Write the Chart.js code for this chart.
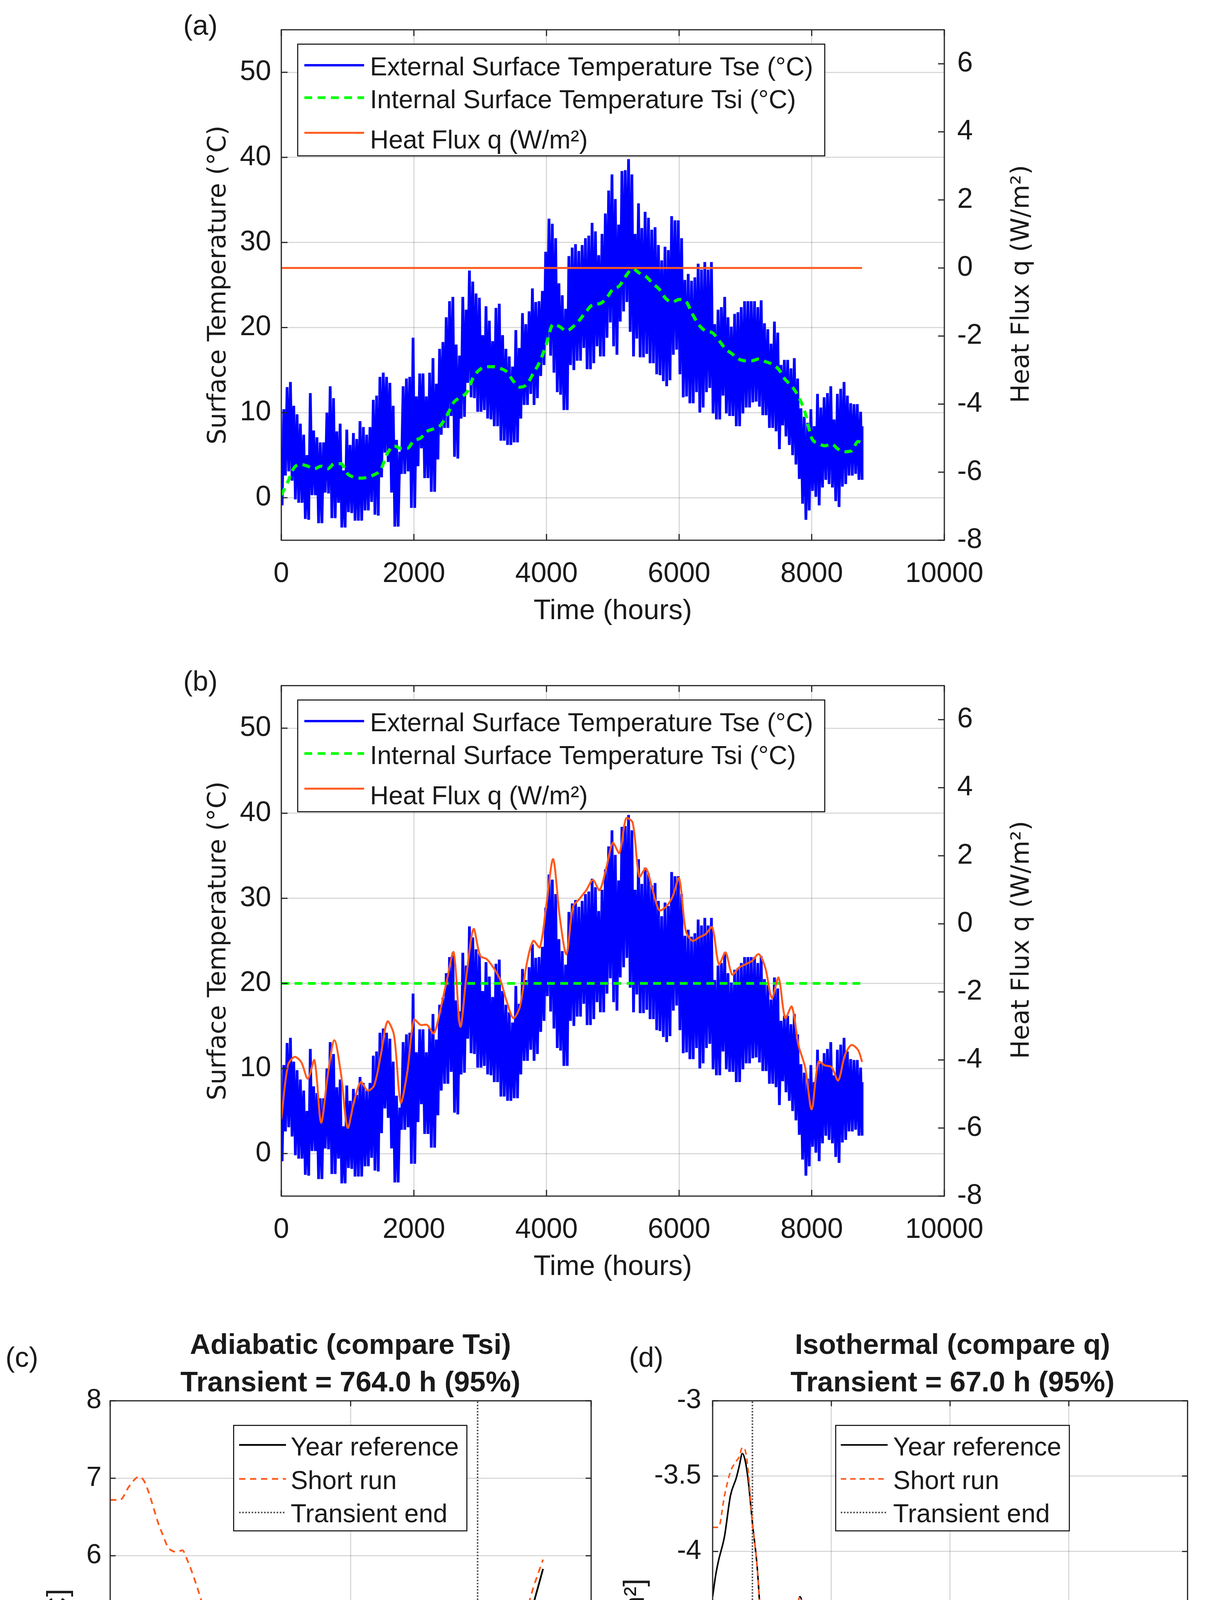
<!DOCTYPE html>
<html>
<head>
<meta charset="utf-8">
<script src="https://cdn.jsdelivr.net/npm/chart.js@4.4.1/dist/chart.umd.min.js"></script>
<style>
  html, body { margin: 0; padding: 0; background: #fff; }
  body { width: 3138px; height: 5023px; position: relative; overflow: hidden; }
  canvas { position: absolute; }
</style>
</head>
<body>
<canvas id="chartA" width="3138" height="1650" style="left:0;top:0;width:3138px;height:1650px"></canvas>
<canvas id="chartB" width="3138" height="1650" style="left:0;top:1679px;width:3138px;height:1650px"></canvas>
<canvas id="chartC" width="1700" height="1723" style="left:0;top:3300px;width:1700px;height:1723px"></canvas>
<canvas id="chartD" width="1569" height="1723" style="left:1569px;top:3300px;width:1569px;height:1723px"></canvas>
<script>
// ---- data ----
// External surface temperature, per 50 h bin: highest and lowest value in the bin (degC)
const tseBinHours = 50;
const tseHigh = [
  10.4, 13.0, 13.6, 10.8, 9.8, 8.7, 7.4, 5.0, 12.3, 7.9,
  7.1, 6.5, 6.5, 10.0, 13.1, 11.7, 7.8, 8.7, 3.2, 8.0,
  6.2, 7.6, 6.9, 9.0, 8.3, 7.4, 8.3, 11.5, 12.0, 14.2,
  14.7, 14.2, 13.5, 10.8, 6.8, 5.4, 13.1, 14.0, 14.2, 18.8,
  11.9, 14.6, 14.6, 11.9, 14.7, 16.4, 13.4, 17.5, 18.3, 21.2,
  23.1, 23.6, 18.0, 16.7, 23.6, 22.1, 26.7, 25.4, 24.0, 23.5,
  19.1, 22.5, 20.8, 18.4, 22.3, 22.8, 19.1, 17.5, 16.6, 15.4,
  19.7, 17.6, 21.7, 20.4, 21.9, 24.6, 23.0, 23.1, 24.3, 28.9,
  32.8, 32.2, 30.5, 25.2, 23.8, 22.2, 28.4, 29.4, 29.8, 29.0,
  29.7, 30.5, 30.8, 32.3, 31.3, 28.5, 31.0, 33.4, 36.1, 38.0,
  35.1, 32.1, 38.4, 38.5, 39.8, 38.0, 31.0, 34.6, 31.7, 33.6,
  32.9, 31.5, 31.8, 29.7, 27.9, 29.5, 29.1, 33.1, 32.6, 32.6,
  30.5, 25.6, 26.3, 25.5, 25.9, 27.5, 26.8, 27.7, 26.8, 27.7,
  20.4, 22.1, 22.4, 23.6, 21.2, 20.1, 21.6, 21.8, 22.4, 23.1,
  23.1, 23.1, 23.1, 22.4, 23.2, 20.5, 19.8, 18.1, 20.7, 19.4,
  15.6, 16.2, 16.2, 15.2, 16.4, 14.0, 10.5, 9.5, 8.8, 10.4,
  8.4, 12.2, 10.6, 11.8, 12.3, 13.1, 9.2, 12.2, 12.8, 13.6,
  12.0, 11.1, 11.0, 11.0, 10.1, 8.4];
const tseLow = [
  -0.9, 2.6, 3.1, 2.0, -0.2, -0.6, -0.6, -2.5, -2.6, 0.3,
  0.3, -3.0, -3.0, 0.6, 0.5, -2.4, -2.4, -0.6, -3.5, -3.5,
  -1.7, -1.8, -2.7, -2.7, -2.7, -1.5, -1.5, -0.5, -2.0, -2.1,
  2.4, 5.3, 4.2, 0.6, -3.4, -3.4, 2.8, 2.8, 3.1, -1.2,
  -1.2, 3.7, 5.8, 2.3, 2.3, 0.7, 0.7, 4.5, 7.4, 8.2,
  8.2, 9.6, 4.8, 4.6, 9.3, 9.5, 13.5, 11.8, 11.7, 10.1,
  10.1, 10.3, 9.3, 9.2, 8.4, 8.4, 6.7, 6.7, 6.2, 6.2,
  6.5, 6.5, 9.3, 10.9, 10.9, 12.2, 10.9, 11.7, 14.3, 15.6,
  18.5, 16.7, 14.7, 12.4, 12.1, 10.3, 10.3, 15.6, 15.0, 16.1,
  16.1, 17.6, 15.1, 15.1, 15.8, 17.8, 16.6, 16.6, 18.8, 20.6,
  17.8, 16.8, 20.7, 21.9, 23.0, 19.5, 16.6, 18.7, 16.5, 16.5,
  16.9, 15.8, 15.8, 14.5, 14.4, 13.7, 13.1, 13.8, 16.8, 17.4,
  14.5, 11.8, 11.9, 11.1, 11.1, 12.4, 10.0, 10.6, 12.4, 12.9,
  9.9, 9.2, 9.2, 12.0, 9.9, 9.6, 9.6, 8.4, 8.4, 9.9,
  10.6, 10.6, 11.2, 11.3, 10.7, 9.7, 9.7, 8.2, 8.2, 7.8,
  5.7, 8.5, 7.2, 6.2, 5.0, 3.9, 2.2, -0.7, -2.6, -1.5,
  0.8, 0.1, -0.9, 1.2, 2.1, 1.6, 1.2, -0.4, -1.1, 1.3,
  1.6, 2.6, 2.6, 2.8, 2.1, 2.1];

// (a) internal surface temperature every 100 h (last point at 8760 h)
const tsiA = [0.3, 1.9, 3.6, 3.9, 3.7, 3.4, 3.7, 3.4, 4.0, 4.0,
  2.8, 2.4, 2.3, 2.4, 2.7, 3.3, 5.2, 6.1, 5.8, 5.8,
  6.7, 7.0, 7.8, 8.1, 8.5, 9.7, 11.2, 11.8, 12.4, 14.2,
  15.1, 15.4, 15.4, 15.2, 14.8, 13.7, 13.0, 13.3, 14.6, 16.0,
  18.1, 20.4, 20.1, 19.6, 20.1, 20.9, 21.9, 22.7, 22.8, 23.4,
  24.5, 24.9, 26.1, 26.9, 26.4, 26.0, 25.2, 24.5, 23.4, 23.0,
  23.3, 23.1, 21.6, 20.3, 19.6, 19.4, 18.5, 17.5, 16.9, 16.3,
  16.1, 16.1, 16.3, 16.0, 15.7, 15.1, 13.9, 13.1, 11.9, 10.0,
  7.0, 6.4, 6.1, 6.3, 5.7, 5.4, 5.5, 6.6, 6.4];
// (a) heat flux (adiabatic: zero)
const fluxAHours = [0, 8760];
const fluxA = [0, 0];

// (b) internal surface temperature held fixed
const tsiBHours = [0, 8760];
const tsiB = [20, 20];
// (b) heat flux every 100 h (last point at 8760 h)
const fluxB = [-5.74, -4.16, -3.91, -4.06, -4.55, -4.01, -5.84, -4.46, -3.42, -4.41,
  -5.99, -5.20, -4.65, -4.90, -4.75, -3.86, -2.87, -3.27, -5.25, -4.36,
  -2.82, -2.97, -2.97, -3.22, -2.52, -1.63, -0.84, -3.02, -1.39, -0.15,
  -0.94, -1.04, -1.29, -1.63, -2.28, -2.77, -2.43, -1.19, -0.50, -0.69,
  0.59, 1.90, 0.20, -0.89, 0.50, 0.74, 0.99, 1.29, 0.99, 1.63,
  2.38, 2.08, 3.10, 2.97, 1.39, 1.63, 0.99, 0.40, 0.50, 0.79,
  1.34, -0.20, -0.50, -0.40, -0.30, -0.10, -1.19, -0.84, -1.49, -1.29,
  -1.19, -1.09, -0.89, -1.29, -2.18, -1.58, -2.77, -2.43, -3.56, -4.21,
  -5.45, -4.06, -4.16, -4.21, -4.60, -3.86, -3.56, -3.71, -4.06];

// (c) adiabatic comparison of Tsi
const cHours = [0, 20, 40, 60, 70, 80, 90, 100, 110, 120,
  130, 140, 150, 160, 180, 200, 220, 240, 260, 270,
  280, 300, 320, 340, 360, 380, 400, 420, 440, 460,
  475, 490, 500, 520, 540, 560, 580, 600, 620, 640,
  660, 680, 700, 720, 740, 760, 780, 800, 820, 840,
  860, 880, 900];
const cYear = [3.28, 3.56, 3.98, 4.29, 4.36, 4.31, 4.18, 4.12, 4.06, 4.00,
  4.04, 4.12, 4.18, 4.14, 3.94, 3.76, 3.47, 3.11, 2.74, 2.68,
  2.68, 2.72, 2.60, 2.52, 2.46, 2.43, 2.40, 2.38, 2.36, 2.28,
  2.26, 2.34, 2.40, 2.58, 2.70, 2.72, 2.78, 2.70, 2.67, 2.70,
  2.70, 2.82, 3.03, 3.25, 3.27, 3.43, 3.66, 3.90, 4.19, 4.55,
  4.96, 5.38, 5.83];
const cShort = [6.72, 6.72, 6.90, 7.02, 6.97, 6.82, 6.62, 6.42, 6.26, 6.11,
  6.06, 6.05, 6.07, 5.95, 5.61, 5.20, 4.77, 4.37, 3.96, 3.88,
  3.82, 3.74, 3.54, 3.39, 3.27, 3.19, 3.11, 3.05, 2.95, 2.83,
  2.81, 2.87, 2.93, 3.05, 3.09, 3.11, 3.13, 3.03, 2.98, 2.97,
  2.97, 3.09, 3.25, 3.43, 3.47, 3.58, 3.88, 4.14, 4.39, 4.77,
  5.16, 5.59, 5.95];
const cTransient = 764;

// (d) isothermal comparison of q
const dHours = [0, 5, 10, 20, 30, 40, 45, 50, 55, 60,
  67, 75, 85, 90, 98, 105, 110, 113, 120, 130,
  140, 147, 155, 165, 175, 185, 192, 198, 206, 211,
  219, 232, 241, 248, 256, 266, 274, 282, 295, 300,
  306, 318, 327, 341, 353, 366, 377, 389, 400, 415,
  426, 435, 451, 464, 474, 489, 498, 511, 522, 531,
  548, 564, 577, 596, 606, 617, 630, 642, 654, 665,
  672];
const dYear = [-4.30, -4.16, -4.06, -3.90, -3.63, -3.51, -3.43, -3.35, -3.40, -3.53,
  -3.81, -4.10, -4.68, -4.77, -4.73, -4.83, -4.91, -4.98, -4.93, -4.68,
  -4.46, -4.30, -4.42, -4.66, -4.90, -5.08, -5.12, -5.15, -5.37, -5.53,
  -5.60, -5.95, -5.95, -6.00, -6.08, -5.80, -5.54, -5.44, -5.13, -5.19,
  -5.28, -5.33, -5.39, -5.25, -5.39, -5.18, -5.28, -5.10, -5.25, -5.10,
  -5.20, -5.14, -5.40, -5.20, -5.29, -4.95, -4.92, -4.58, -4.57, -4.52,
  -4.89, -4.71, -4.74, -5.13, -5.04, -5.13, -4.93, -5.05, -4.91, -5.03,
  -4.85];
// short run differs only over the first hours, then lies on the year curve
const dShortHead = [-3.84, -3.84, -3.84, -3.63, -3.47, -3.40, -3.37, -3.31, -3.33, -3.47, -3.81];
const dTransient = 67;

// ticks
const xTicksAB = [0, 2000, 4000, 6000, 8000, 10000];
const yLeftTicksAB = [0, 10, 20, 30, 40, 50];
const yRightTicksAB = [-8, -6, -4, -2, 0, 2, 4, 6];
const xTicksC = [0, 500, 1000];
const yTicksC = [2, 3, 4, 5, 6, 7, 8];
const xTicksD = [0, 200, 400, 600, 800];
const yTicksD = [-6, -5.5, -5, -4.5, -4, -3.5, -3];

// ---- styling ----
const SANS = 'Liberation Sans';
const WIDE = 'DejaVu Sans';
const TXT = '#1a1a1a';
const GRID = 'rgba(0,0,0,0.15)';
const BLUE = '#0000ff', GREEN = '#00ff00', ORANGE = '#ff5a1e', BLACK = '#000000', DOT = '#555555';

Chart.defaults.font.family = SANS;
Chart.defaults.color = TXT;

const pts = (xs, ys) => ys.map((y, i) => ({ x: xs[i], y }));
const every100 = n => Array.from({ length: n }, (_, i) => Math.min(i * 100, 8760));
const fixedTicks = list => axis => { axis.ticks = list.map(v => ({ value: v })); };

// each bin: its low, then its high, so the line swings like the hourly record
function tsePoints() {
  const out = [];
  tseHigh.forEach((hi, i) => {
    const t0 = i * tseBinHours;
    out.push({ x: Math.min(t0 + tseBinHours * 0.25, 8760), y: tseLow[i] });
    out.push({ x: Math.min(t0 + tseBinHours * 0.75, 8760), y: hi });
  });
  return out;
}

function drawRich(ctx, t) {
  ctx.save();
  ctx.translate(t.x, t.y);
  if (t.rot) ctx.rotate(t.rot);
  ctx.fillStyle = TXT;
  ctx.textBaseline = 'alphabetic';
  ctx.textAlign = 'left';
  const parts = t.parts || [{ text: t.text, size: t.size, bold: t.bold, family: t.family }];
  const fontOf = p => (p.bold ? 'bold ' : '') + p.size + 'px "' + (p.family || SANS) + '"';
  let w = 0;
  parts.forEach(p => { ctx.font = fontOf(p); w += ctx.measureText(p.text).width; });
  const base = 0.36 * parts[0].size;
  let x = -w / 2;
  parts.forEach(p => {
    ctx.font = fontOf(p);
    ctx.fillText(p.text, x, base + (p.dy || 0));
    x += ctx.measureText(p.text).width;
  });
  ctx.restore();
}

// box, inward tick marks, in-axes legend and free text
const decor = {
  id: 'decor',
  afterDraw(chart, args, o) {
    const { ctx, chartArea: a } = chart;
    ctx.save();
    ctx.strokeStyle = '#262626';
    ctx.lineWidth = 3;
    const L = o.tickLen;
    Object.values(chart.scales).forEach(s => {
      s.ticks.forEach(t => {
        const p = s.getPixelForValue(t.value);
        ctx.beginPath();
        if (s.isHorizontal()) {
          ctx.moveTo(p, a.bottom); ctx.lineTo(p, a.bottom - L);
          ctx.moveTo(p, a.top); ctx.lineTo(p, a.top + L);
        } else if (s.position === 'left') {
          ctx.moveTo(a.left, p); ctx.lineTo(a.left + L, p);
          if (o.mirrorY) { ctx.moveTo(a.right, p); ctx.lineTo(a.right - L, p); }
        } else {
          ctx.moveTo(a.right, p); ctx.lineTo(a.right - L, p);
        }
        ctx.stroke();
      });
    });
    ctx.strokeRect(a.left, a.top, a.right - a.left, a.bottom - a.top);

    const lg = o.legend;
    ctx.fillStyle = '#fff';
    ctx.fillRect(lg.x1, lg.y1, lg.x2 - lg.x1, lg.y2 - lg.y1);
    ctx.lineWidth = 2.5;
    ctx.strokeStyle = '#000';
    ctx.strokeRect(lg.x1, lg.y1, lg.x2 - lg.x1, lg.y2 - lg.y1);
    chart.data.datasets.forEach((ds, i) => {
      const y = lg.rows[i];
      ctx.strokeStyle = ds.borderColor;
      ctx.lineWidth = ds.legendWidth || ds.borderWidth;
      ctx.setLineDash(ds.borderDash || []);
      ctx.beginPath();
      ctx.moveTo(lg.s1, y);
      ctx.lineTo(lg.s2, y);
      ctx.stroke();
      ctx.setLineDash([]);
      ctx.fillStyle = TXT;
      ctx.font = lg.size + 'px "' + SANS + '"';
      ctx.textAlign = 'left';
      ctx.textBaseline = 'alphabetic';
      ctx.fillText(ds.label, lg.tx, lg.textY[i] + 0.36 * lg.size);
    });
    (o.texts || []).forEach(t => drawRich(ctx, t));
    ctx.restore();
  }
};

const grid = { color: GRID, lineWidth: 3, drawTicks: false };
const tickFont = { family: SANS, size: 72 };

function abConfig(datasets, label) {
  return {
    type: 'line',
    data: { datasets },
    plugins: [decor],
    options: {
      responsive: false, animation: false, devicePixelRatio: 1,
      layout: { padding: { left: 480, right: 461, top: 70, bottom: 0 } },
      elements: { point: { radius: 0 } },
      plugins: {
        legend: { display: false }, tooltip: { enabled: false },
        decor: {
          tickLen: 16, mirrorY: false,
          legend: { x1: 762, y1: 113, x2: 2111, y2: 399, rows: [167, 250, 340], textY: [169, 253, 356],
                    s1: 779, s2: 932, tx: 947, size: 66 },
          texts: [
            { text: label, x: 513, y: 63, size: 72 },
            { text: 'Heat Flux q (W/m²)', x: 2610, y: 727, size: 64, family: WIDE, rot: -Math.PI / 2 }
          ]
        }
      },
      scales: {
        x: {
          type: 'linear', position: 'bottom', min: 0, max: 10000,
          afterBuildTicks: fixedTicks(xTicksAB), afterFit: s => { s.height = 267; },
          ticks: { font: tickFont, color: TXT, padding: 44, maxRotation: 0, autoSkip: false, callback: v => String(v) },
          grid, border: { display: false },
          title: { display: true, text: 'Time (hours)', color: TXT, font: { family: SANS, size: 72 }, padding: { top: 0, bottom: 42 } }
        },
        yL: {
          type: 'linear', position: 'left', min: -5, max: 55,
          afterBuildTicks: fixedTicks(yLeftTicksAB), afterFit: s => { s.width = 240; },
          ticks: { font: tickFont, color: TXT, padding: 26, autoSkip: false, callback: v => String(v) },
          grid, border: { display: false },
          title: { display: true, text: 'Surface Temperature (°C)', color: TXT, font: { family: WIDE, size: 64 }, padding: { top: 42, bottom: 0 } }
        },
        yR: {
          type: 'linear', position: 'right', min: -8, max: 7,
          afterBuildTicks: fixedTicks(yRightTicksAB), afterFit: s => { s.width = 260; },
          ticks: { font: tickFont, color: TXT, padding: 33, autoSkip: false, callback: v => String(v) },
          grid: { display: false, drawTicks: false }, border: { display: false }
        }
      }
    }
  };
}

const tseData = tsePoints();
const tseSet = () => ({ label: 'External Surface Temperature Tse (°C)', data: tseData, yAxisID: 'yL',
  borderColor: BLUE, borderWidth: 7, legendWidth: 6, tension: 0, order: 2 });

new Chart(document.getElementById('chartA'), abConfig([
  tseSet(),
  { label: 'Internal Surface Temperature Tsi (°C)', data: pts(every100(tsiA.length), tsiA), yAxisID: 'yL', borderColor: GREEN, borderWidth: 8, borderDash: [20, 14], legendWidth: 7, tension: 0.4, cubicInterpolationMode: 'monotone', order: 1 },
  { label: 'Heat Flux q (W/m²)', data: pts(fluxAHours, fluxA), yAxisID: 'yR', borderColor: ORANGE, borderWidth: 5, order: 0 }
], '(a)'));

new Chart(document.getElementById('chartB'), abConfig([
  tseSet(),
  { label: 'Internal Surface Temperature Tsi (°C)', data: pts(tsiBHours, tsiB), yAxisID: 'yL', borderColor: GREEN, borderWidth: 7, borderDash: [20, 14], order: 1 },
  { label: 'Heat Flux q (W/m²)', data: pts(every100(fluxB.length), fluxB), yAxisID: 'yR', borderColor: ORANGE, borderWidth: 5, tension: 0.3, order: 0 }
], '(b)'));

function cdConfig(datasets, o) {
  return {
    type: 'line',
    data: { datasets },
    plugins: [decor],
    options: {
      responsive: false, animation: false, devicePixelRatio: 1,
      layout: { padding: { left: 0, right: o.padRight, top: 286, bottom: 0 } },
      elements: { point: { radius: 0 } },
      plugins: {
        legend: { display: false }, tooltip: { enabled: false },
        decor: { tickLen: 14, mirrorY: true, legend: o.legend, texts: o.texts }
      },
      scales: {
        x: {
          type: 'linear', position: 'bottom', min: o.xMin, max: o.xMax,
          afterBuildTicks: fixedTicks(o.xTicks), afterFit: s => { s.height = 247; },
          ticks: { font: { family: SANS, size: 70 }, color: TXT, padding: 40, maxRotation: 0, autoSkip: false, callback: v => String(v) },
          grid, border: { display: false },
          title: { display: true, text: 'Time since start [h]', color: TXT, font: { family: SANS, size: 72 }, padding: { top: 0, bottom: 25 } }
        },
        y: {
          type: 'linear', position: 'left', min: o.yMin, max: o.yMax,
          afterBuildTicks: fixedTicks(o.yTicks), afterFit: s => { s.width = o.yWidth; },
          ticks: { font: { family: SANS, size: 70 }, color: TXT, padding: o.yPad, autoSkip: false, callback: v => String(v) },
          grid, border: { display: false },
          title: o.yTitle
        }
      }
    }
  };
}

new Chart(document.getElementById('chartC'), cdConfig([
  { label: 'Year reference', data: pts(cHours, cYear), borderColor: BLACK, borderWidth: 4.5, cubicInterpolationMode: 'monotone', order: 1 },
  { label: 'Short run', data: pts(cHours, cShort), borderColor: ORANGE, borderWidth: 4.5, borderDash: [16, 12], cubicInterpolationMode: 'monotone', order: 0 },
  { label: 'Transient end', data: [{ x: cTransient, y: 2 }, { x: cTransient, y: 8 }], borderColor: DOT, borderWidth: 4, borderDash: [4, 4], order: 2 }
], {
  padRight: 187, xMin: 0, xMax: 1000, yMin: 2, yMax: 8, xTicks: xTicksC, yTicks: yTicksC, yWidth: 282, yPad: 22,
  yTitle: { display: false },
  legend: { x1: 598, y1: 349, x2: 1195, y2: 619, rows: [399, 486, 572], textY: [402, 488, 573], s1: 612, s2: 732, tx: 744, size: 66 },
  texts: [
    { text: 'Adiabatic (compare Tsi)', x: 897, y: 140, size: 73, bold: true },
    { text: 'Transient = 764.0 h (95%)', x: 897, y: 236, size: 73, bold: true },
    { text: '(c)', x: 56, y: 173, size: 72 },
    { x: 145, y: 881, rot: -Math.PI / 2, parts: [
      { text: 'T', size: 74 }, { text: 'si', size: 52, dy: 16 }, { text: ' [°C]', size: 74 }
    ] }
  ]
}));

const dShort = dShortHead.concat(dYear.slice(dShortHead.length));
new Chart(document.getElementById('chartD'), cdConfig([
  { label: 'Year reference', data: pts(dHours, dYear), borderColor: BLACK, borderWidth: 4, cubicInterpolationMode: 'monotone', order: 1 },
  { label: 'Short run', data: pts(dHours, dShort), borderColor: ORANGE, borderWidth: 4, borderDash: [14, 10], cubicInterpolationMode: 'monotone', order: 0 },
  { label: 'Transient end', data: [{ x: dTransient, y: -6.085 }, { x: dTransient, y: -3 }], borderColor: DOT, borderWidth: 4, borderDash: [4, 4], order: 2 }
], {
  padRight: 85, xMin: 0, xMax: 800, yMin: -6.085, yMax: -3, xTicks: xTicksD, yTicks: yTicksD, yWidth: 255, yPad: 29,
  yTitle: { display: true, text: 'q [W/m²]', color: TXT, font: { family: SANS, size: 74 }, padding: { top: 14, bottom: 0 } },
  legend: { x1: 570, y1: 349, x2: 1168, y2: 619, rows: [399, 486, 572], textY: [402, 488, 573], s1: 583, s2: 703, tx: 717, size: 66 },
  texts: [
    { text: 'Isothermal (compare q)', x: 869, y: 140, size: 73, bold: true },
    { text: 'Transient = 67.0 h (95%)', x: 869, y: 236, size: 73, bold: true },
    { text: '(d)', x: 85, y: 173, size: 72 }
  ]
}));
</script>
</body>
</html>
